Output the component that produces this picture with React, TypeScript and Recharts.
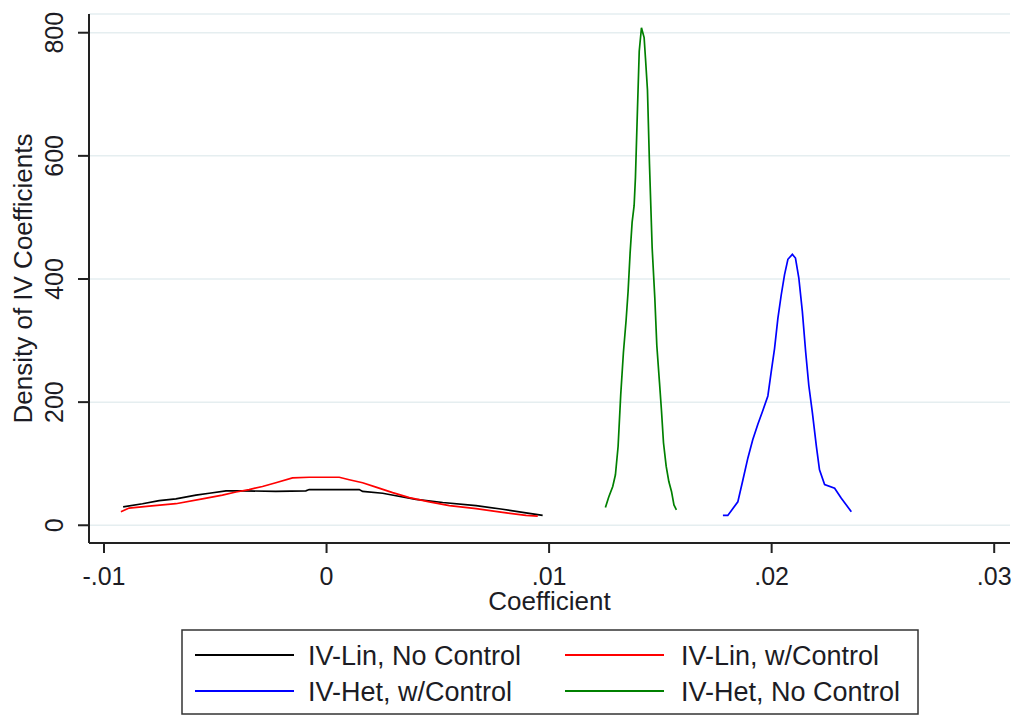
import React from 'react';
import { LineChart, Line, XAxis, YAxis, CartesianGrid, Legend } from 'recharts';

const FONT = '"Liberation Sans", Arial, Helvetica, sans-serif';

// Axis ticks
const xTicks = [-0.01, 0, 0.01, 0.02, 0.03];
const xTickLabels = ['-.01', '0', '.01', '.02', '.03'];
const yTicks = [0, 200, 400, 600, 800];

// IV-Lin, No Control (black)
const linNoCtrlX = [-0.00914, -0.00827, -0.00752, -0.00677, -0.00587, -0.00527, -0.00452, -0.00378, -0.00228, -0.00093, -0.00078, 0.00147, 0.00162, 0.00252, 0.00312, 0.00402, 0.00522, 0.00672, 0.00791, 0.00896, 0.00971];
const linNoCtrlY = [30, 35, 40, 43, 49, 52, 56, 56, 55, 56, 58, 58, 55, 52, 48, 42, 37, 32, 26, 20, 16];

// IV-Lin, w/Control (red)
const linCtrlX = [-0.00924, -0.00887, -0.00797, -0.00677, -0.00558, -0.00468, -0.00407, -0.00348, -0.00288, -0.00228, -0.00153, -0.00078, 0.00057, 0.00102, 0.00162, 0.00222, 0.00297, 0.00372, 0.00462, 0.00552, 0.00672, 0.00791, 0.00896, 0.00949];
const linCtrlY = [22, 28, 31, 35, 43, 49, 54, 58, 63, 69, 77, 78, 78, 74, 69, 62, 53, 45, 38, 32, 27, 21, 16, 15];

// IV-Het, w/Control (blue)
const hetCtrlX = [0.01781, 0.01803, 0.01848, 0.01871, 0.01893, 0.01915, 0.01938, 0.0196, 0.01983, 0.01998, 0.02013, 0.02028, 0.02043, 0.02058, 0.02073, 0.02093, 0.02107, 0.02122, 0.02138, 0.02153, 0.02167, 0.02183, 0.02201, 0.02215, 0.02238, 0.02283, 0.02313, 0.02358];
const hetCtrlY = [16, 16, 38, 74, 109, 139, 164, 186, 210, 249, 287, 336, 374, 407, 432, 440, 434, 402, 347, 281, 227, 183, 128, 90, 66, 60, 44, 22];

// IV-Het, No Control (green)
const hetNoCtrlX = [0.01253, 0.01268, 0.01286, 0.01298, 0.0131, 0.01322, 0.01334, 0.01346, 0.01355, 0.01364, 0.01373, 0.01382, 0.01388, 0.01397, 0.01405, 0.01415, 0.01427, 0.01433, 0.01442, 0.01451, 0.01463, 0.01475, 0.01484, 0.01496, 0.01505, 0.01514, 0.01526, 0.01538, 0.0155, 0.01561, 0.01572];
const hetNoCtrlY = [29, 46, 63, 82, 128, 213, 281, 333, 380, 442, 492, 519, 565, 675, 770, 808, 792, 759, 707, 587, 451, 369, 292, 232, 186, 134, 96, 71, 55, 33, 25];

const zip = (xs: number[], ys: number[]) => xs.map((x, i) => ({ x, y: ys[i] }));

const series = [
  { key: 'linNoCtrl', name: 'IV-Lin, No Control', color: '#000000', data: zip(linNoCtrlX, linNoCtrlY) },
  { key: 'linCtrl', name: 'IV-Lin, w/Control', color: '#ff0000', data: zip(linCtrlX, linCtrlY) },
  { key: 'hetCtrl', name: 'IV-Het, w/Control', color: '#0000ff', data: zip(hetCtrlX, hetCtrlY) },
  { key: 'hetNoCtrl', name: 'IV-Het, No Control', color: '#008000', data: zip(hetNoCtrlX, hetNoCtrlY) },
];

const TEXT_COLOR = '#1c1c24';
const AXIS_COLOR = '#222222';

const YTick = (props: any) => {
  const { x, y, payload } = props;
  return (
    <text
      x={x}
      y={y}
      transform={`rotate(-90 ${x} ${y})`}
      textAnchor="middle"
      dy="0.355em"
      fontSize={25}
      fontFamily={FONT}
      fill={TEXT_COLOR}
    >
      {payload.value}
    </text>
  );
};

const LegendBox = () => {
  const cols = [
    { lineX: 14, textX: 127 },
    { lineX: 384, textX: 500 },
  ];
  const rows = [26, 62];
  return (
    <svg width={738} height={86} style={{ display: 'block' }}>
      <rect x={1} y={1} width={736} height={84} fill="#ffffff" stroke="#333333" strokeWidth={1.5} />
      {series.map((s, i) => {
        const c = cols[i % 2];
        const r = rows[Math.floor(i / 2)];
        return (
          <g key={s.key}>
            <line x1={c.lineX} x2={c.lineX + 99} y1={r} y2={r} stroke={s.color} strokeWidth={1.8} />
            <text x={c.textX} y={r} dy="0.355em" fontSize={27} fontFamily={FONT} fill={TEXT_COLOR}>
              {s.name}
            </text>
          </g>
        );
      })}
    </svg>
  );
};

export default function App() {
  return (
    <div style={{ position: 'absolute', left: 0, top: 0, width: 1019, height: 715, background: '#ffffff', overflow: 'hidden' }}>
      <LineChart
        width={1019}
        height={715}
        margin={{ top: 14, right: 9, left: 0, bottom: 100 }}
        style={{ fontFamily: FONT }}
      >
        <CartesianGrid vertical={false} stroke="#e5eef0" strokeWidth={1.5} />
        <XAxis
          type="number"
          dataKey="x"
          domain={[-0.010674, 0.03071]}
          ticks={xTicks}
          tickFormatter={(v: number) => xTickLabels[xTicks.indexOf(v)] ?? String(v)}
          allowDataOverflow
          height={72}
          tickSize={10}
          tickMargin={14}
          axisLine={{ stroke: AXIS_COLOR, strokeWidth: 2 }}
          tickLine={{ stroke: AXIS_COLOR, strokeWidth: 2 }}
          tick={{ fontSize: 25, fill: TEXT_COLOR, fontFamily: FONT }}
          label={{ value: 'Coefficient', position: 'insideBottom', offset: 5, fontSize: 26, fill: TEXT_COLOR, fontFamily: FONT }}
        />
        <YAxis
          type="number"
          domain={[-28.8, 830.4]}
          ticks={yTicks}
          allowDataOverflow
          width={89}
          tickSize={11}
          tickMargin={24}
          axisLine={{ stroke: AXIS_COLOR, strokeWidth: 2 }}
          tickLine={{ stroke: AXIS_COLOR, strokeWidth: 2 }}
          tick={<YTick />}
          label={{
            value: 'Density of IV Coefficients',
            angle: -90,
            position: 'insideLeft',
            offset: 23,
            fontSize: 26,
            fill: TEXT_COLOR,
            fontFamily: FONT,
            style: { textAnchor: 'middle' },
          }}
        />
        {series.map((s) => (
          <Line
            key={s.key}
            data={s.data}
            dataKey="y"
            name={s.name}
            type="linear"
            stroke={s.color}
            strokeWidth={1.7}
            dot={false}
            activeDot={false}
            isAnimationActive={false}
          />
        ))}
        <Legend
          layout="horizontal"
          verticalAlign="middle"
          align="center"
          content={<LegendBox />}
          wrapperStyle={{ position: 'absolute', left: 181, top: 629, width: 738, height: 86 }}
        />
      </LineChart>
    </div>
  );
}
